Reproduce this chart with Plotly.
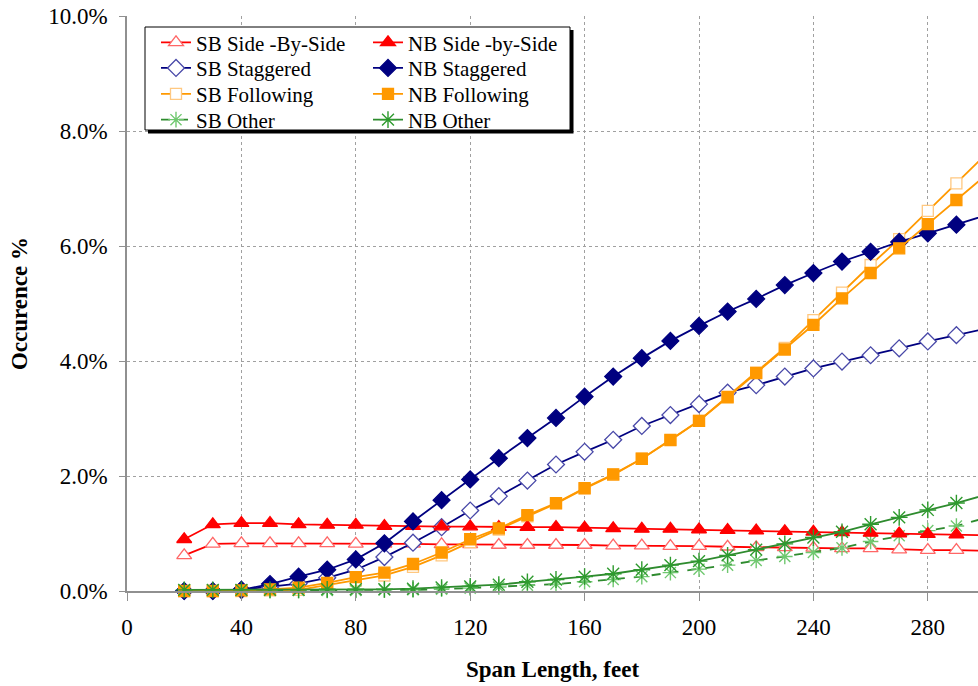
import plotly.graph_objects as go

span_ft = [20, 30, 40, 50, 60, 70, 80, 90, 100, 110, 120, 130, 140, 150, 160,
           170, 180, 190, 200, 210, 220, 230, 240, 250, 260, 270, 280, 290, 300]

sb_side = [0.62, 0.82, 0.83, 0.83, 0.83, 0.83, 0.82, 0.82, 0.82, 0.81, 0.81, 0.80, 0.80, 0.80, 0.80,
           0.79, 0.79, 0.78, 0.78, 0.77, 0.76, 0.76, 0.75, 0.74, 0.74, 0.72, 0.71, 0.71, 0.70]
nb_side = [0.90, 1.16, 1.18, 1.18, 1.16, 1.15, 1.15, 1.13, 1.13, 1.12, 1.12, 1.11, 1.11, 1.11, 1.10,
           1.09, 1.08, 1.08, 1.07, 1.06, 1.05, 1.04, 1.03, 1.02, 1.01, 1.00, 0.99, 0.98, 0.97]
sb_stag = [0.00, 0.00, 0.02, 0.07, 0.13, 0.23, 0.37, 0.59, 0.84, 1.11, 1.40, 1.65, 1.92, 2.20, 2.42,
           2.63, 2.87, 3.06, 3.25, 3.45, 3.58, 3.73, 3.87, 3.99, 4.10, 4.22, 4.34, 4.45, 4.56]
nb_stag = [0.00, 0.00, 0.02, 0.12, 0.25, 0.37, 0.55, 0.83, 1.21, 1.58, 1.94, 2.31, 2.66, 3.01, 3.38,
           3.73, 4.05, 4.35, 4.61, 4.86, 5.08, 5.32, 5.53, 5.73, 5.90, 6.07, 6.22, 6.37, 6.53]
sb_follow = [0.00, 0.00, 0.00, 0.01, 0.02, 0.10, 0.18, 0.27, 0.42, 0.62, 0.85, 1.07, 1.30, 1.52, 1.78,
             2.02, 2.30, 2.62, 2.96, 3.38, 3.80, 4.23, 4.71, 5.19, 5.67, 6.12, 6.61, 7.09, 7.58]
nb_follow = [0.00, 0.00, 0.01, 0.03, 0.06, 0.14, 0.24, 0.32, 0.47, 0.67, 0.90, 1.09, 1.32, 1.53, 1.79,
             2.03, 2.30, 2.63, 2.96, 3.37, 3.79, 4.20, 4.63, 5.09, 5.53, 5.96, 6.38, 6.80, 7.22]
sb_other = [0.01, 0.01, 0.01, 0.01, 0.01, 0.01, 0.01, 0.02, 0.02, 0.03, 0.05, 0.07, 0.10, 0.12, 0.16,
            0.20, 0.25, 0.32, 0.38, 0.45, 0.53, 0.60, 0.67, 0.75, 0.86, 0.96, 1.05, 1.13, 1.27]
nb_other = [0.02, 0.02, 0.02, 0.02, 0.02, 0.03, 0.03, 0.03, 0.04, 0.06, 0.08, 0.11, 0.16, 0.20, 0.25,
            0.30, 0.37, 0.45, 0.52, 0.62, 0.72, 0.82, 0.93, 1.03, 1.16, 1.28, 1.41, 1.53, 1.67]

y_ticks = [0, 2, 4, 6, 8, 10]
y_tick_labels = ["0.0%", "2.0%", "4.0%", "6.0%", "8.0%", "10.0%"]
x_ticks = [0, 40, 80, 120, 160, 200, 240, 280]

FONT = "Liberation Serif"

W, H = 978, 686
PLOT_L, PLOT_T, PLOT_B, PLOT_R = 127, 16, 591, 978   # page pixels
L = PLOT_L
T = PLOT_T
B = H - PLOT_B
pw = PLOT_R - PLOT_L
ph = PLOT_B - PLOT_T

def px_x(p):
    return (p - PLOT_L) / pw

def px_y(p):
    return (PLOT_B - p) / ph

# name, data, line color, dash, symbol, fill, outline, size, legend column, legend row
series = [
    ("SB Side -By-Side", sb_side, "#FF0000", "solid", "triangle-up", "white", "#FF6666", 13, 0, 0),
    ("SB Staggered", sb_stag, "#000080", "solid", "diamond", "white", "#4848A8", 13, 0, 1),
    ("SB Following", sb_follow, "#FF9900", "solid", "square", "white", "#FFC880", 11, 0, 2),
    ("SB Other", sb_other, "#2E8B2E", "dash", "asterisk-open", None, "#70C870", 13, 0, 3),
    ("NB Side -by-Side", nb_side, "#FF0000", "solid", "triangle-up", "#FF0000", "#FF0000", 13, 1, 0),
    ("NB Staggered", nb_stag, "#000080", "solid", "diamond", "#000080", "#000080", 13, 1, 1),
    ("NB Following", nb_follow, "#FF9900", "solid", "square", "#FF9900", "#FF9900", 11, 1, 2),
    ("NB Other", nb_other, "#2E8B2E", "solid", "asterisk-open", None, "#2E9A2E", 14, 1, 3),
]

col_x = [156, 368]
row_y = [42.7, 68.3, 94.3, 120.0]

fig = go.Figure()
legends = {}
for i, (name, vals, lc, dash, sym, fill, outline, size, col, row) in enumerate(series):
    marker = dict(symbol=sym, size=size, line=dict(color=outline, width=1.3))
    if fill is not None:
        marker["color"] = fill
    else:
        marker["color"] = outline
        marker["line"]["width"] = 1.4
    leg_id = "legend" if i == 0 else f"legend{i + 1}"
    fig.add_trace(go.Scatter(
        x=span_ft, y=vals, name=name, mode="lines+markers",
        line=dict(color=lc, width=1.8, dash=dash),
        marker=marker, cliponaxis=False, legend=leg_id, showlegend=True,
    ))
    legends[leg_id] = dict(
        x=px_x(col_x[col]), y=px_y(row_y[row]), xanchor="left", yanchor="middle",
        bgcolor="rgba(0,0,0,0)", borderwidth=0, orientation="v",
        font=dict(family=FONT, size=21, color="black"),
    )

# legend frame with drop shadow
fig.add_shape(type="rect", xref="paper", yref="paper", layer="above",
              x0=px_x(148), x1=px_x(573.5), y0=px_y(133.5), y1=px_y(30),
              fillcolor="black", line=dict(width=0))
fig.add_shape(type="rect", xref="paper", yref="paper", layer="above",
              x0=px_x(145), x1=px_x(570), y0=px_y(130), y1=px_y(27),
              fillcolor="white", line=dict(color="black", width=1))

fig.update_layout(
    width=W, height=H,
    margin=dict(l=L, r=0, t=T, b=B, autoexpand=False),
    paper_bgcolor="white", plot_bgcolor="white",
    showlegend=True,
    font=dict(family=FONT, size=22, color="black"),
    xaxis=dict(
        range=[0, pw / 2.86], tickmode="array", tickvals=x_ticks,
        showgrid=True, gridcolor="#A0A0A0", griddash="dot", gridwidth=1,
        showline=True, linecolor="#909090", linewidth=1.5,
        ticks="outside", ticklen=8, tickcolor="#909090", tickwidth=1,
        tickfont=dict(family=FONT, size=23), ticklabelstandoff=7,
        ticklabeloverflow="allow",
        zeroline=False, automargin=False,
        title=dict(text="<b>Span Length, feet</b>", font=dict(family=FONT, size=23), standoff=22),
    ),
    yaxis=dict(
        range=[0, 10], tickmode="array", tickvals=y_ticks, ticktext=y_tick_labels,
        showgrid=True, gridcolor="#A0A0A0", griddash="dot", gridwidth=1,
        showline=True, linecolor="#909090", linewidth=1.5,
        ticks="outside", ticklen=6, tickcolor="#909090", tickwidth=1,
        tickfont=dict(family=FONT, size=23), ticklabelstandoff=7,
        ticklabeloverflow="allow",
        zeroline=False, automargin=False,
        title=dict(text="<b>Occurence %</b>", font=dict(family=FONT, size=23), standoff=14),
    ),
    **legends,
)

fig.write_html(
    "out.html",
    config={"displayModeBar": False},
    post_script="document.body.style.margin='0px';document.body.style.overflow='hidden';",
)
